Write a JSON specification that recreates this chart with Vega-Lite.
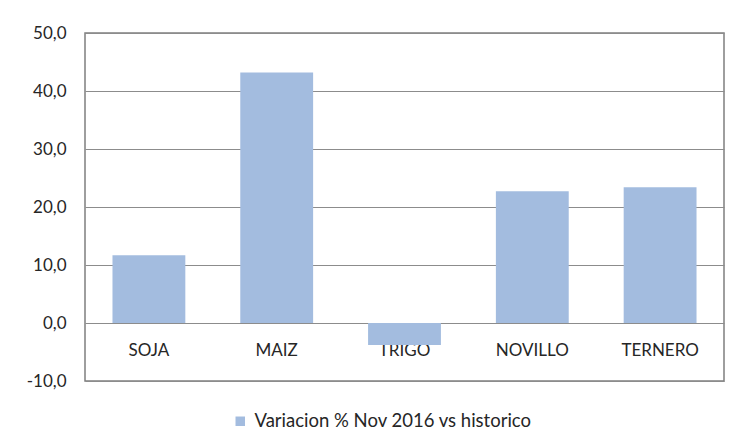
{
  "$schema": "https://vega.github.io/schema/vega-lite/v6.json",
  "width": 639,
  "height": 348,
  "autosize": {"type": "none"},
  "padding": {"left": 85, "top": 33, "right": 10, "bottom": 67},
  "background": "white",
  "config": {
    "font": "Lato",
    "view": {"stroke": "#7f7f7f", "strokeWidth": 1.5},
    "axis": {"labelFont": "Lato", "labelColor": "#262626", "labelFontSize": 17}
  },
  "data": {
    "values": [
      {"producto": "SOJA", "valor": 11.7, "serie": "Variacion % Nov 2016 vs historico"},
      {"producto": "MAIZ", "valor": 43.2, "serie": "Variacion % Nov 2016 vs historico"},
      {"producto": "TRIGO", "valor": -3.8, "serie": "Variacion % Nov 2016 vs historico"},
      {"producto": "NOVILLO", "valor": 22.7, "serie": "Variacion % Nov 2016 vs historico"},
      {"producto": "TERNERO", "valor": 23.4, "serie": "Variacion % Nov 2016 vs historico"}
    ]
  },
  "encoding": {
    "x": {
      "field": "producto",
      "type": "nominal",
      "sort": null,
      "scale": {"paddingInner": 0.43, "paddingOuter": 0.215},
      "axis": {
        "title": null,
        "orient": "bottom",
        "offset": -58,
        "domain": false,
        "ticks": false,
        "labelAngle": 0,
        "labelPadding": 19,
        "grid": false
      }
    }
  },
  "layer": [
    {
      "mark": {"type": "bar", "fill": "#a3bcdf"},
      "encoding": {
        "y": {
          "field": "valor",
          "type": "quantitative",
          "scale": {"domain": [-10, 50], "nice": false},
          "axis": {
            "title": null,
            "values": [-10, 0, 10, 20, 30, 40, 50],
            "format": ".1f",
            "labelExpr": "replace(replace(datum.label, '.', ','), '\u2212', '-')",
            "domain": false,
            "ticks": false,
            "labelPadding": 19,
            "grid": true,
            "gridColor": "#8c8c8c",
            "gridWidth": 1,
            "gridOpacity": 1
          }
        },
        "color": {
          "field": "serie",
          "type": "nominal",
          "scale": {"range": ["#a3bcdf"]},
          "legend": {
            "title": null,
            "orient": "none",
            "legendX": 146,
            "legendY": 379,
            "symbolType": "square",
            "symbolSize": 90,
            "symbolStrokeWidth": 0,
            "labelFontSize": 18.5,
            "labelLimit": 0,
            "labelFont": "Lato",
            "labelColor": "#262626",
            "labelOffset": 5
          }
        }
      }
    },
    {
      "mark": {"type": "rule", "color": "#4a7ebb", "strokeWidth": 1.3},
      "encoding": {"y": {"datum": 0}}
    }
  ]
}
